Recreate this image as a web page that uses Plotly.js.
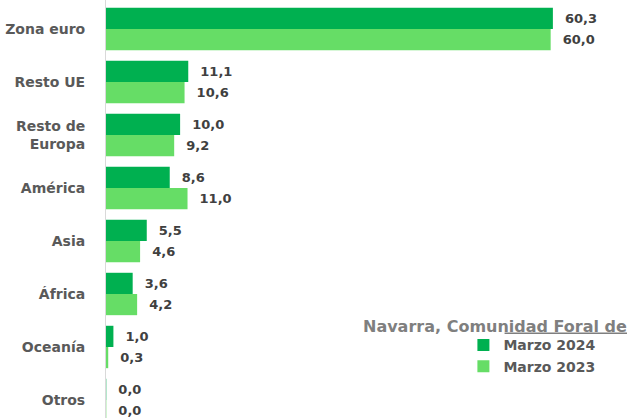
<!DOCTYPE html>
<html>
<head>
<meta charset="utf-8">
<script src="https://cdn.plot.ly/plotly-3.0.1.min.js"></script>
<style>html,body{margin:0;padding:0;background:#fff;}#chart{width:627px;height:418px;}</style>
</head>
<body>
<div id="chart"></div>
<script>
var categories = ["Zona euro", "Resto UE", "Resto de<br>Europa", "América", "Asia", "África", "Oceanía", "Otros"];
var marzo2024 = [60.3, 11.1, 10.0, 8.6, 5.5, 3.6, 1.0, 0.04];
var marzo2023 = [60.0, 10.6, 9.2, 11.0, 4.6, 4.2, 0.3, 0.04];
var seriesNames = ["Marzo 2024", "Marzo 2023"];
var legendTitle = "Navarra, Comunidad Foral de";

var FONT = "DejaVu Sans";
var labelFont = {family: FONT, size: 13, color: "#404040", weight: "bold"};

var traces = [
  {type: "bar", orientation: "h", name: seriesNames[0], y: categories, x: marzo2024,
   marker: {color: "#00B050"}, texttemplate: "\u00a0\u00a0%{x:.1f}", textposition: "outside",
   textfont: labelFont, constraintext: "none", cliponaxis: false, hoverinfo: "skip"},
  {type: "bar", orientation: "h", name: seriesNames[1], y: categories, x: marzo2023,
   marker: {color: "#66DD66"}, texttemplate: "\u00a0\u00a0%{x:.1f}", textposition: "outside",
   textfont: labelFont, constraintext: "none", cliponaxis: false, hoverinfo: "skip"}
];

var layout = {
  width: 627, height: 418,
  margin: {l: 106, r: 0, t: 0, b: 0, pad: 0, autoexpand: false},
  paper_bgcolor: "#ffffff", plot_bgcolor: "#ffffff",
  separators: ",.",
  barmode: "group", bargap: 0.2, bargroupgap: 0,
  showlegend: true,
  xaxis: {range: [0, 70.3], showgrid: false, zeroline: false, showticklabels: false, showline: false, fixedrange: true},
  yaxis: {type: "category", range: [7.34, -0.547], showgrid: false, zeroline: false,
          showline: true, linecolor: "#D9D9D9", linewidth: 1, ticks: "",
          ticklabelstandoff: 17,
          tickfont: {family: FONT, size: 14, color: "#595959", weight: "bold"}, fixedrange: true},
  legend: {x: 0.686, xanchor: "left", y: 0.212, yanchor: "top", bgcolor: "rgba(0,0,0,0)",
           font: {family: FONT, size: 14, color: "#595959", weight: "bold"}, traceorder: "normal"},
  annotations: [
    {xref: "paper", yref: "paper", x: 1.004, y: 0.191, xanchor: "right", yanchor: "bottom",
     text: legendTitle, showarrow: false, font: {family: FONT, size: 16, color: "#7F7F7F", weight: "bold"}}
  ],
  shapes: [
    {type: "line", xref: "paper", yref: "paper", x0: 0.765, x1: 1, y0: 0.203, y1: 0.203,
     line: {color: "#7F7F7F", width: 1.5}}
  ]
};

Plotly.newPlot("chart", traces, layout, {displayModeBar: false, staticPlot: true});
</script>
</body>
</html>
